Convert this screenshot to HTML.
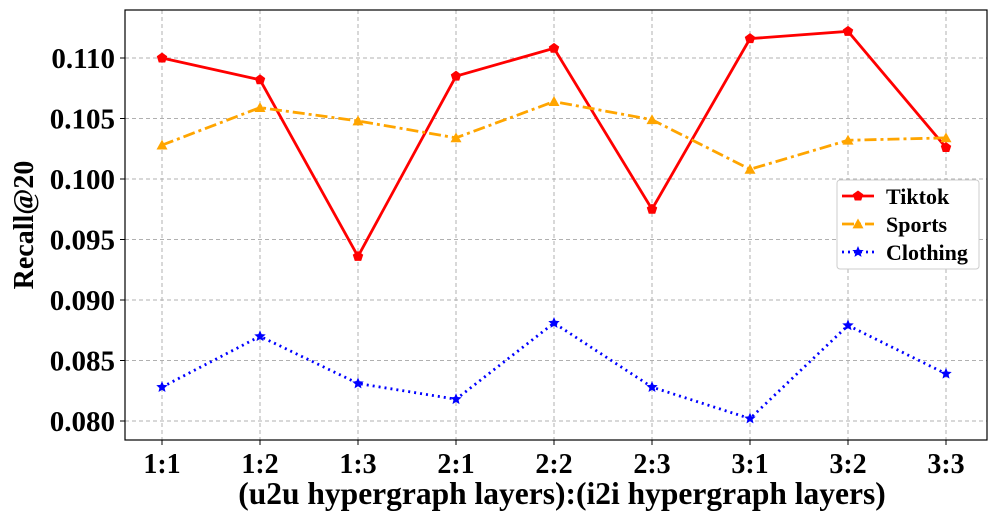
<!DOCTYPE html>
<html><head><meta charset="utf-8"><style>
body{margin:0;background:#fff}
svg{display:block;font-family:"Liberation Serif",serif;font-weight:bold}
</style></head><body>
<svg id="c" width="997" height="522"></svg>
<script>
const categories=["1:1","1:2","1:3","2:1","2:2","2:3","3:1","3:2","3:3"];
const tiktok=[0.1100,0.1082,0.0936,0.1085,0.1108,0.0975,0.1116,0.1122,0.1026];
const sports=[0.1028,0.1059,0.1048,0.1034,0.1064,0.1049,0.1008,0.1032,0.1034];
const clothing=[0.0828,0.0870,0.0831,0.0818,0.0881,0.0828,0.0802,0.0879,0.0839];
const yTicks=[0.080,0.085,0.090,0.095,0.100,0.105,0.110];
const NS="http://www.w3.org/2000/svg";
const svg=document.getElementById('c');
const L=125,R=987,T=10,B=440;
const x=i=>162+i*98;
const y=v=>58+(0.110-v)*12100;
function el(t,a,p){const e=document.createElementNS(NS,t);for(const k in a)e.setAttribute(k,a[k]);(p||svg).appendChild(e);return e;}
const grid=el('g',{});


yTicks.forEach(v=>{
 el('line',{x1:L,x2:R,y1:y(v),y2:y(v),stroke:'#b0b0b0','stroke-dasharray':'4,3','stroke-width':1},grid);
 el('line',{x1:L-5,x2:L,y1:y(v),y2:y(v),stroke:'#000'});
 const t=el('text',{x:L-10,y:y(v)+10,'text-anchor':'end','font-size':29});t.textContent=v.toFixed(3);
 
 
});
categories.forEach((c,i)=>{
 el('line',{x1:x(i),x2:x(i),y1:T,y2:B,stroke:'#b0b0b0','stroke-dasharray':'4,3','stroke-width':1},grid);
 el('line',{x1:x(i),x2:x(i),y1:B,y2:B+5,stroke:'#000'});
 const t=el('text',{x:x(i),y:B+33,'text-anchor':'middle','font-size':28});t.textContent=c;
 
 
});
const ax=el('rect',{x:L,y:T,width:R-L,height:B-T,fill:'none',stroke:'#000','stroke-width':1.2});


const yt=el('text',{x:0,y:0,transform:`translate(33,${(T+B)/2}) rotate(-90)`,'text-anchor':'middle','font-size':28});yt.textContent='Recall@20';


const xt=el('text',{x:562,y:504,'text-anchor':'middle','font-size':31.5});xt.textContent='(u2u hypergraph layers):(i2i hypergraph layers)';


function pent(cx,cy,r){let p=[];for(let k=0;k<5;k++){const a=-Math.PI/2+k*2*Math.PI/5;p.push((cx+r*Math.cos(a))+','+(cy+r*Math.sin(a)));}return p.join(' ');}
function star(cx,cy,r){let p=[];for(let k=0;k<10;k++){const a=-Math.PI/2+k*Math.PI/5;const rr=k%2?r*0.45:r;p.push((cx+rr*Math.cos(a))+','+(cy+rr*Math.sin(a)));}return p.join(' ');}
function tri(cx,cy,r){return `${cx},${cy-r} ${cx-r},${cy+r*0.8} ${cx+r},${cy+r*0.8}`;}
const series=[
 {name:'tiktok',data:tiktok,color:'#ff0000',dash:'',m:pent,r:5.5},
 {name:'sports',data:sports,color:'#ffa500',dash:'12,4,3,4',m:tri,r:5.5},
 {name:'clothing',data:clothing,color:'#0000ff',dash:'2,4',m:star,r:6}
];
series.forEach(s=>{
 const g=el('g',{});
 
 
 el('polyline',{points:s.data.map((v,i)=>x(i)+','+y(v)).join(' '),fill:'none',stroke:s.color,'stroke-width':2.8,'stroke-dasharray':s.dash},g);
 s.data.forEach((v,i)=>{const p=el('polygon',{points:s.m(x(i),y(v),s.r),fill:s.color},g);
  
  });
});
const lg=el('g',{});


el('rect',{x:837,y:180,width:142,height:89,rx:3,fill:'#fff',stroke:'#ccc'},lg);
const labels=['Tiktok','Sports','Clothing'];
series.forEach((s,k)=>{
 const yy=196+k*28;
 el('line',{x1:842,x2:874,y1:yy,y2:yy,stroke:s.color,'stroke-width':2.8,'stroke-dasharray':s.dash},lg);
 el('polygon',{points:s.m(858,yy,s.r),fill:s.color},lg);
 const t=el('text',{x:886,y:yy+8,'font-size':22},lg);t.textContent=labels[k];
 
 
});
</script>
</body></html>
